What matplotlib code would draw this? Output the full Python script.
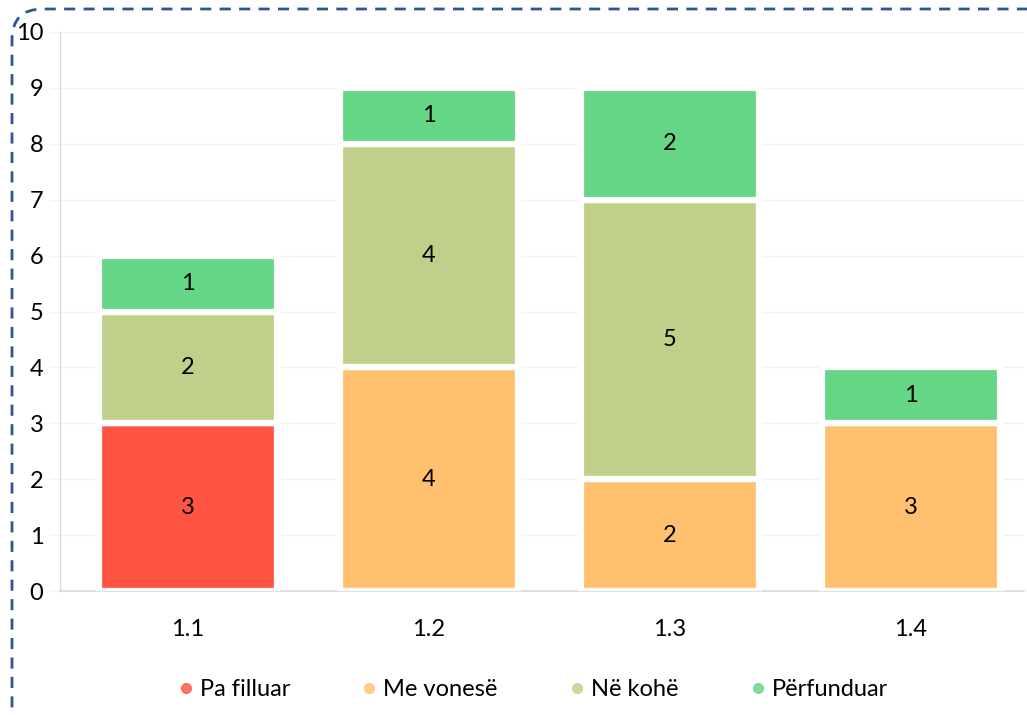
import matplotlib
matplotlib.use("Agg")
import matplotlib.pyplot as plt
from matplotlib.patches import FancyBboxPatch
from matplotlib.lines import Line2D
import numpy as np

categories = ["1.1", "1.2", "1.3", "1.4"]
series_names = ["Pa filluar", "Me vonesë", "Në kohë", "Përfunduar"]
pa_filluar = [3, 0, 0, 0]
me_vonese = [0, 4, 2, 3]
ne_kohe = [2, 4, 5, 0]
perfunduar = [1, 1, 2, 1]
colors = ["#FF5444", "#FFC170", "#C0D08A", "#65D586"]

plt.rcParams['font.family'] = ['Lato', 'DejaVu Sans']
FS = 17

W, H = 1027, 715
fig = plt.figure(figsize=(W / 100, H / 100), dpi=100)
ax = fig.add_axes([60 / W, 1 - 591 / H, 964 / W, (591 - 32) / H])

x = np.arange(len(categories))
bottom = np.zeros(len(categories))
for name, vals, c in zip(series_names, [pa_filluar, me_vonese, ne_kohe, perfunduar], colors):
    vals = np.array(vals, dtype=float)
    ax.bar(x, vals, width=0.74, bottom=bottom, color=c, edgecolor="white",
           linewidth=4.5, label=name, zorder=3)
    for xi, v, b in zip(x, vals, bottom):
        if v > 0:
            ax.text(xi, b + v / 2, f"{int(v)}", ha="center", va="center",
                    fontsize=FS, color="black", zorder=4)
    bottom += vals

ax.set_xlim(-0.53, 3.47)
ax.set_ylim(0, 10)
ax.set_yticks(range(0, 11))
ax.set_xticks(x)
ax.set_xticklabels(categories)
ax.grid(axis="y", color="#F2F2F2", linewidth=1, zorder=0)
for s in ["top", "right"]:
    ax.spines[s].set_visible(False)
ax.spines["left"].set_color("#D9D9D9")
ax.spines["bottom"].set_color("#D9D9D9")
ax.spines["bottom"].set_linewidth(1.2)
ax.tick_params(axis="y", length=7, color="#F2F2F2", labelsize=FS, pad=5)
ax.tick_params(axis="x", length=0, labelsize=FS, pad=20)

handles = [Line2D([0], [0], marker="o", linestyle="none", markersize=7,
                  markerfacecolor=c, markeredgecolor=c, alpha=0.8) for c in colors]
fig.legend(handles, series_names, loc="center", bbox_to_anchor=(531 / W, 1 - 690 / H),
           ncol=4, frameon=False, fontsize=FS, handletextpad=0.1, columnspacing=2.85,
           handlelength=1.0)

# dashed rounded border
border = FancyBboxPatch((12 / W, -0.05), (W + 40) / W, (H - 9) / H + 0.05,
                        boxstyle="round,pad=0,rounding_size=0.03",
                        transform=fig.transFigure, fill=False,
                        edgecolor="#2F5597", linewidth=2, linestyle=(0, (4, 3)),
                        mutation_aspect=W / H)
fig.patches.append(border)

fig.savefig("out.png", dpi=100)
